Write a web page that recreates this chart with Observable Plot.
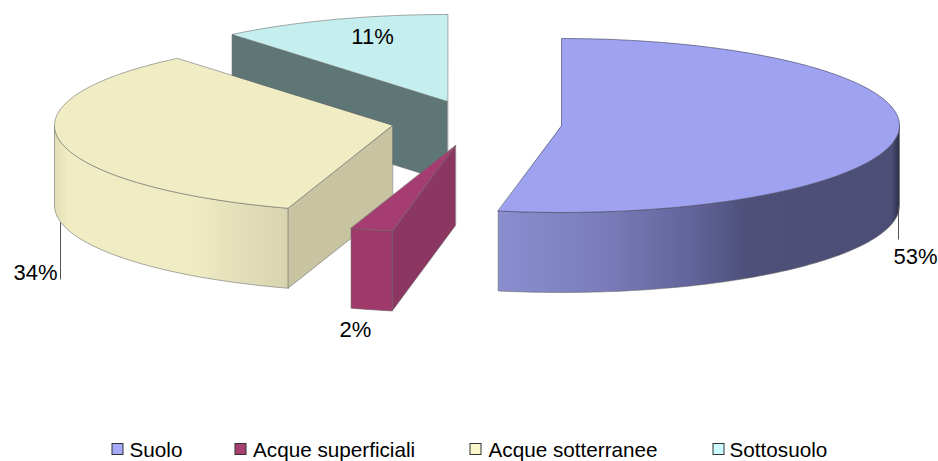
<!DOCTYPE html>
<html>
<head>
<meta charset="utf-8">
<script src="https://cdn.jsdelivr.net/npm/d3@7"></script>
<script src="https://cdn.jsdelivr.net/npm/@observablehq/plot@0.6"></script>
<style>
html,body{margin:0;padding:0;background:#fff;overflow:hidden}
svg{display:block}
</style>
</head>
<body>
<div id="chart"></div>
<script>
// Data
const categories = ["Suolo", "Acque superficiali", "Acque sotterranee", "Sottosuolo"];
const values = [53, 2, 34, 11];

// Styles
const topColors = ["#9ea2f0", "#a53c72", "#f0ecc4", "#c5eeee"];
const swatchColors = ["#a4a8f8", "#a8406f", "#fcf8cc", "#ccfaff"];
const wallColors = ["url(#wallSuolo)", "#9e3969", "url(#wallSotterranee)", "#5f7676"];
const cutColors = [null, "#8c3662", "#c8c4a2", "#5f7676"];

// Layout (pixel geometry of the exploded pie)
const RX = 338, RY = 87, DEPTH = 80;
const centerX = [561, 455, 392, 447];
const centerY = [125, 145, 125, 101];
const labelX = [915, 355, 35, 372];
const labelY = [256, 329, 272, 36];
const swatchX = [112, 235, 470, 713];
const legendTextX = [129, 252.5, 488, 729];
const legendY = 449;
const SWATCH = 11;

// Geometry from values
const stops = d3.cumsum(values).map(v => v * 3.6 * Math.PI / 180);
const starts = stops.map((_, i) => i ? stops[i - 1] : 0);
const rim = (i, t, dy = 0) => ({
  x: centerX[i] + RX * Math.sin(t),
  y: centerY[i] - RY * Math.cos(t) + dy
});
const arc = (i, a, b, dy = 0) => {
  const n = Math.max(2, Math.ceil(Math.abs(b - a) * 60));
  return d3.range(n + 1).map(k => rim(i, a + (b - a) * k / n, dy));
};
const apex = (i, dy = 0) => ({x: centerX[i], y: centerY[i] + dy});
const face = (pts, fill, stroke = "#666", strokeWidth = 0.7) =>
  Plot.line(pts, {x: "x", y: "y", fill, stroke, strokeWidth, strokeOpacity: 0.8, curve: "linear-closed"});

// Faces per slice
const topFace = i => face([apex(i), ...arc(i, starts[i], stops[i])], topColors[i], i === 0 ? "#33344f" : "#666");
const outerWall = (i, a, b) => face([...arc(i, a, b), ...arc(i, b, a, DEPTH)], wallColors[i]);
const cutWall = (i, t) => face([apex(i), rim(i, t), rim(i, t, DEPTH), apex(i, DEPTH)], cutColors[i]);

const gradient = (id, stopList) =>
  `<linearGradient id="${id}" x1="0" x2="1" y1="0" y2="0">` +
  stopList.map(([o, c]) => `<stop offset="${o}" stop-color="${c}"/>`).join("") +
  `</linearGradient>`;

const defsMark = () => {
  const g = document.createElementNS("http://www.w3.org/2000/svg", "defs");
  g.innerHTML =
    gradient("wallSuolo", [[0, "#8b8ecf"], [0.26, "#7a7dba"], [0.5, "#5f6197"], [0.62, "#4e5079"], [0.98, "#4c4e76"], [1, "#2c2d48"]]) +
    gradient("wallSotterranee", [[0, "#e2dfb8"], [0.06, "#f0ecc4"], [0.6, "#efebc3"], [0.8, "#e2deb9"], [1, "#d8d4b0"]]);
  return g;
};

const legend = categories.map((name, i) => ({name, i}));
const labels = values.map((v, i) => ({text: `${v}%`, x: labelX[i], y: labelY[i]}));
const leaders = [
  {x1: 898, y1: 206, x2: 898, y2: 239},
  {x1: 60, y1: 222, x2: 60, y2: 279}
];

const chart = Plot.plot({
  width: 938,
  height: 461,
  margin: 0,
  x: {domain: [0, 938], range: [0, 938], axis: null},
  y: {domain: [0, 461], range: [0, 461], axis: null},
  marks: [
    defsMark,
    // Sottosuolo (back)
    cutWall(3, starts[3]),
    topFace(3),
    // Acque sotterranee
    outerWall(2, starts[2], 1.5 * Math.PI),
    cutWall(2, starts[2]),
    topFace(2),
    // Acque superficiali
    outerWall(1, starts[1], stops[1]),
    cutWall(1, starts[1]),
    topFace(1),
    // Suolo
    outerWall(0, Math.PI / 2, stops[0]),
    topFace(0),
    // Leaders
    Plot.link(leaders, {x1: "x1", y1: "y1", x2: "x2", y2: "y2", stroke: "#555", strokeWidth: 1}),
    // Data labels
    Plot.text(labels, {x: "x", y: "y", text: "text", fontSize: 22, fontFamily: "Liberation Sans, Arial, sans-serif", fill: "#000"}),
    // Legend
    Plot.rect(legend, {
      x1: d => swatchX[d.i], x2: d => swatchX[d.i] + SWATCH,
      y1: legendY - SWATCH / 2, y2: legendY + SWATCH / 2,
      fill: d => swatchColors[d.i], stroke: "#333", strokeWidth: 1
    }),
    Plot.text(legend, {
      x: d => legendTextX[d.i], y: 449.5, text: "name", textAnchor: "start",
      fontSize: 20.7, fontFamily: "Liberation Sans, Arial, sans-serif", fill: "#000"
    })
  ]
});
document.getElementById("chart").append(chart);
</script>
</body>
</html>
